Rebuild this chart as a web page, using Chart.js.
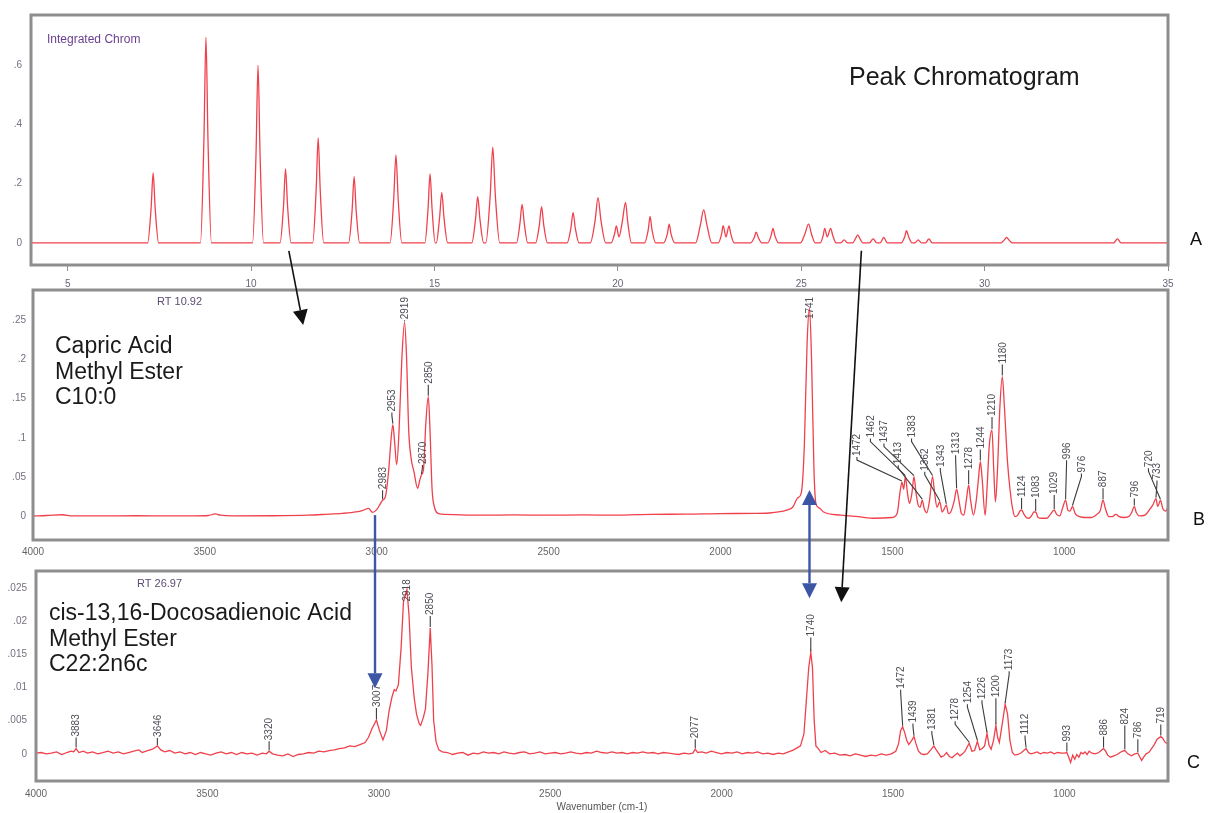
<!DOCTYPE html>
<html><head><meta charset="utf-8">
<script src="https://cdn.jsdelivr.net/npm/chart.js@4.4.1/dist/chart.umd.min.js"></script>
<style>
html,body{margin:0;padding:0;background:#fff;}
#page{position:relative;width:1208px;height:813px;overflow:hidden;background:#fff;}
.panel{position:absolute;left:0;width:1208px;}
#overlay{position:absolute;left:0;top:0;width:1208px;height:813px;pointer-events:none;}
</style></head><body>
<div id="page">
 <div class="panel" style="top:0;height:290px"><canvas id="cA"></canvas></div>
 <div class="panel" style="top:276px;height:286px"><canvas id="cB"></canvas></div>
 <div class="panel" style="top:556px;height:257px"><canvas id="cC"></canvas></div>
 <canvas id="overlay"></canvas>
</div>
<script>
// ---------------- DATA ----------------
// Panel A: integrated chromatogram, [retention time (min), intensity]
const chromatogram = [
 [4,0],[7.18,0],[7.275,0.118],[7.33,0.236],[7.385,0.118],[7.48,0],
 [8.62,0],[8.715,0.35],[8.77,0.695],[8.825,0.35],[8.92,0],
 [10.04,0],[10.135,0.30],[10.19,0.60],[10.245,0.30],[10.34,0],
 [10.79,0],[10.885,0.125],[10.94,0.25],[10.995,0.125],[11.09,0],
 [11.68,0],[11.775,0.18],[11.83,0.355],[11.885,0.18],[11.98,0],
 [12.66,0],[12.755,0.11],[12.81,0.224],[12.865,0.11],[12.96,0],
 [13.79,0],[13.89,0.15],[13.95,0.297],[14.01,0.15],[14.11,0],
 [14.74,0],[14.825,0.115],[14.88,0.233],[14.935,0.115],[15.02,0],
 [15.05,0],[15.14,0.085],[15.2,0.17],[15.26,0.085],[15.36,0],
 [16.02,0],[16.12,0.08],[16.18,0.156],[16.24,0.08],[16.34,0],
 [16.40,0],[16.52,0.16],[16.59,0.323],[16.66,0.16],[16.78,0],
 [17.24,0],[17.33,0.065],[17.39,0.13],[17.45,0.065],[17.54,0],
 [17.76,0],[17.86,0.06],[17.92,0.122],[17.98,0.06],[18.08,0],
 [18.62,0],[18.72,0.05],[18.78,0.102],[18.84,0.05],[18.94,0],
 [19.25,0],[19.38,0.075],[19.46,0.153],[19.54,0.075],[19.67,0],
 [19.82,0],[19.91,0.03],[19.96,0.057],[20.03,0.02],[20.12,0.07],[20.21,0.137],[20.27,0.07],[20.37,0],
 [20.73,0],[20.83,0.045],[20.88,0.089],[20.93,0.045],[21.03,0],
 [21.25,0],[21.35,0.03],[21.40,0.063],[21.45,0.03],[21.55,0],
 [22.12,0],[22.25,0.06],[22.34,0.111],[22.43,0.06],[22.56,0],
 [22.74,0],[22.83,0.03],[22.87,0.058],[22.95,0.02],[23.03,0.057],[23.08,0.03],[23.17,0],
 [23.62,0],[23.72,0.018],[23.77,0.036],[23.83,0.018],[23.92,0],
 [24.09,0],[24.18,0.025],[24.23,0.049],[24.28,0.025],[24.38,0],
 [24.98,0],[25.1,0.03],[25.2,0.063],[25.28,0.03],[25.38,0],
 [25.52,0],[25.6,0.025],[25.64,0.049],[25.71,0.02],[25.80,0.049],[25.86,0.025],[25.95,0],
 [26.08,0],[26.17,0.01],[26.26,0],
 [26.40,0],[26.48,0.014],[26.54,0.027],[26.60,0.014],[26.68,0],
 [26.86,0],[26.96,0.013],[27.06,0],
 [27.15,0],[27.25,0.018],[27.35,0],
 [27.73,0],[27.82,0.02],[27.87,0.041],[27.93,0.02],[28.02,0],
 [28.10,0],[28.19,0.01],[28.28,0],
 [28.39,0],[28.48,0.013],[28.57,0],
 [30.45,0],[30.53,0.009],[30.6,0.018],[30.67,0.009],[30.75,0],
 [33.52,0],[33.62,0.013],[33.72,0],[35,0]
];
const timeTicks = [5,10,15,20,25,30,35];
const chromYTicks = [0,0.2,0.4,0.6];

// Panel B: IR spectrum, Capric acid methyl ester, [wavenumber, absorbance]
const spectrumB = [
 [4000,0.001],[3960,0.0015],[3915,0.0025],[3885,0.001],[3800,0.001],[3700,0.0012],[3600,0.001],[3530,0.001],
 [3490,0.0015],[3470,0.0035],[3455,0.002],[3420,0.001],[3300,0.0012],[3200,0.002],[3150,0.003],[3100,0.0042],
 [3060,0.006],[3040,0.008],[3024,0.0105],[3012,0.0055],[3000,0.009],[2990,0.016],[2983,0.021],[2975,0.025],
 [2965,0.06],[2958,0.1],[2953,0.117],[2948,0.095],[2942,0.066],[2935,0.11],[2927,0.2],[2919,0.247],[2913,0.2],
 [2907,0.11],[2900,0.074],[2892,0.058],[2881,0.036],[2875,0.046],[2870,0.053],[2864,0.06],[2857,0.12],
 [2850,0.1525],[2845,0.11],[2839,0.035],[2832,0.012],[2820,0.004],[2800,0.003],[2700,0.002],[2600,0.0022],
 [2500,0.002],[2400,0.0022],[2300,0.002],[2200,0.003],[2100,0.0032],[2000,0.004],[1900,0.0042],[1850,0.005],
 [1810,0.008],[1790,0.012],[1775,0.024],[1765,0.03],[1756,0.09],[1748,0.22],[1741,0.265],[1735,0.2],[1728,0.06],
 [1722,0.016],[1712,0.011],[1700,0.006],[1650,0.002],[1600,0.0],[1550,-0.002],[1500,-0.001],[1486,0.004],
 [1478,0.03],[1472,0.044],[1467,0.035],[1462,0.051],[1456,0.03],[1450,0.017],[1443,0.03],[1437,0.051],
 [1431,0.03],[1425,0.015],[1419,0.012],[1413,0.021],[1407,0.01],[1400,0.005],[1392,0.02],[1383,0.051],
 [1377,0.03],[1370,0.012],[1362,0.019],[1355,0.006],[1349,0.01],[1343,0.015],[1337,0.004],[1330,0.006],
 [1320,0.02],[1313,0.035],[1306,0.02],[1299,0.004],[1292,0.002],[1285,0.02],[1278,0.04],[1272,0.02],
 [1264,0.002],[1256,0.02],[1249,0.05],[1244,0.07],[1239,0.05],[1230,0.002],[1224,0.04],[1218,0.09],
 [1210,0.11],[1205,0.06],[1200,0.019],[1194,0.06],[1187,0.14],[1180,0.178],[1174,0.14],[1165,0.07],
 [1157,0.032],[1150,0.01],[1143,0.0],[1135,0.002],[1129,0.007],[1124,0.0085],[1118,0.004],[1110,-0.001],
 [1102,-0.002],[1094,0.002],[1088,0.006],[1083,0.006],[1076,-0.001],[1065,-0.002],[1050,-0.002],[1040,0.003],
 [1029,0.0085],[1022,0.003],[1013,0.001],[1004,0.012],[996,0.021],[989,0.008],[983,0.007],[976,0.013],
 [968,0.004],[955,0.0],[940,-0.001],[920,-0.001],[905,0.003],[895,0.008],[887,0.021],[880,0.01],[870,0.0],
 [860,0.0],[850,0.003],[840,0.0],[825,-0.001],[810,0.001],[803,0.006],[796,0.013],[790,0.005],[780,0.001],
 [765,0.002],[750,0.01],[742,0.015],[733,0.023],[728,0.013],[720,0.021],[713,0.01],[705,0.007],[698,0.012]
];
const peaksB = [
 [2983,0.021],[2953,0.117],[2919,0.247],[2870,0.053],[2850,0.1525],[1741,0.265],[1472,0.044],[1462,0.051],
 [1437,0.051],[1413,0.021],[1383,0.051],[1362,0.019],[1343,0.015],[1313,0.035],[1278,0.040],[1244,0.070],
 [1210,0.110],[1180,0.178],[1124,0.0085],[1083,0.006],[1029,0.0085],[996,0.021],[976,0.013],[887,0.021],
 [796,0.013],[733,0.023],[720,0.021]
];
const absTicksB = [0,0.05,0.1,0.15,0.2,0.25];

// Panel C: IR spectrum, cis-13,16-docosadienoic acid methyl ester
const spectrumC = [
 [4000,0.0001],[3985,0.0002],[3970,0.0],[3955,0.0001],[3940,0.0003],[3925,-0.0001],[3910,0.0002],[3898,0.0004],
 [3890,0.0003],[3883,0.0008],[3875,0.0002],[3862,0.0004],[3850,0.0001],[3835,0.0003],[3820,0.0],[3805,0.0002],
 [3790,0.0004],[3775,0.0001],[3760,0.0003],[3745,0.0],[3730,0.0002],[3715,0.0004],[3700,0.0006],[3690,0.0002],
 [3675,0.0005],[3660,0.0007],[3646,0.0012],[3636,0.0006],[3625,0.0003],[3610,0.0005],[3595,0.0001],[3580,0.0003],
 [3565,0.0],[3550,0.0002],[3535,-0.0001],[3520,0.0002],[3505,0.0],[3490,-0.0002],[3475,0.0001],[3460,0.0003],
 [3445,0.0],[3430,0.0002],[3415,-0.0001],[3400,0.0002],[3385,0.0],[3370,0.0001],[3355,-0.0002],[3340,0.0001],
 [3328,0.0],[3320,0.0004],[3310,0.0],[3295,-0.0002],[3280,-0.0003],[3265,0.0],[3250,-0.0004],[3235,-0.0001],
 [3220,0.0],[3205,0.0002],[3190,0.0001],[3175,0.0004],[3160,0.0003],[3145,0.0005],[3130,0.0006],[3115,0.0008],
 [3100,0.0009],[3085,0.0012],[3070,0.0011],[3055,0.0014],[3040,0.0017],[3030,0.0025],[3020,0.0038],[3007,0.0051],
 [2998,0.0035],[2988,0.0021],[2978,0.0035],[2970,0.0065],[2962,0.0085],[2955,0.0097],[2950,0.0095],[2943,0.0104],
 [2935,0.016],[2928,0.023],[2918,0.0248],[2912,0.021],[2905,0.013],[2897,0.0085],[2890,0.006],[2882,0.0045],
 [2878,0.0043],[2870,0.0055],[2864,0.0068],[2857,0.012],[2850,0.019],[2845,0.0135],[2840,0.005],[2833,0.0018],
 [2825,0.0006],[2815,0.0003],[2800,0.0002],[2785,-0.0001],[2770,0.0001],[2755,0.0002],[2740,-0.0002],[2725,0.0001],
 [2710,0.0],[2695,0.0003],[2680,0.0001],[2665,0.0002],[2650,0.0],[2635,0.0003],[2620,0.0001],[2605,0.0],
 [2590,0.0002],[2575,0.0003],[2560,0.0],[2545,0.0001],[2530,0.0003],[2515,0.0],[2500,0.0001],[2485,0.0002],
 [2470,0.0],[2455,0.0001],[2440,0.0003],[2425,0.0001],[2410,0.0],[2395,0.0002],[2380,0.0001],[2365,0.0004],
 [2350,0.0002],[2335,0.0001],[2320,0.0003],[2305,0.0001],[2290,0.0002],[2275,0.0],[2260,0.0002],[2245,0.0001],
 [2230,0.0003],[2215,0.0001],[2200,0.0002],[2185,0.0],[2170,0.0002],[2155,0.0001],[2140,0.0],[2125,-0.0001],
 [2110,0.0001],[2095,0.0],[2084,0.0001],[2077,0.0007],[2070,0.0002],[2058,0.0003],[2045,0.0001],[2030,0.0004],
 [2015,0.0002],[2000,0.0],[1985,0.0002],[1970,0.0001],[1955,0.0003],[1940,0.0],[1925,0.0002],[1910,0.0001],
 [1895,0.0003],[1880,0.0],[1865,0.0001],[1850,-0.0001],[1835,0.0001],[1820,0.0],[1805,0.0003],[1790,0.0006],
 [1780,0.0009],[1770,0.0012],[1760,0.003],[1753,0.008],[1746,0.013],[1740,0.0153],[1735,0.013],[1730,0.005],
 [1725,0.0012],[1718,0.0008],[1710,0.0002],[1698,0.0005],[1685,0.0],[1670,0.0001],[1655,-0.0002],[1640,-0.0001],
 [1625,-0.0003],[1610,0.0],[1595,-0.0002],[1580,-0.0004],[1565,-0.0002],[1550,-0.0003],[1535,0.0],[1520,-0.0002],
 [1505,0.0],[1492,0.0004],[1484,0.0015],[1478,0.0035],[1472,0.0041],[1466,0.0032],[1460,0.002],[1454,0.0014],
 [1446,0.002],[1439,0.0026],[1433,0.0015],[1426,0.0004],[1418,0.0],[1410,-0.0001],[1400,0.0],[1390,0.0006],
 [1381,0.0012],[1374,0.0006],[1366,0.0],[1360,-0.0005],[1352,-0.0003],[1344,0.0002],[1336,-0.0004],[1328,-0.0006],
 [1320,-0.0002],[1312,0.0001],[1305,-0.0003],[1297,0.0],[1290,0.0004],[1278,0.0016],[1270,0.0004],[1262,0.0005],
 [1254,0.0019],[1247,0.0006],[1240,0.0008],[1233,0.0012],[1226,0.0031],[1220,0.0013],[1214,0.0007],[1207,0.002],
 [1200,0.0043],[1195,0.0025],[1190,0.0017],[1183,0.004],[1173,0.0075],[1166,0.006],[1159,0.002],[1152,0.0002],
 [1145,-0.0002],[1135,-0.0001],[1125,0.0002],[1112,0.0008],[1105,0.0002],[1098,0.0],[1090,0.0001],[1080,0.0003],
 [1070,0.0],[1060,0.0002],[1050,0.0001],[1040,0.0003],[1030,0.0],[1020,0.0002],[1008,0.0001],[1000,0.0001],
 [993,0.0002],[987,-0.0006],[982,-0.0013],[976,-0.0002],[970,-0.0008],[964,-0.0001],[958,-0.0005],[952,0.0002],
 [946,0.0],[940,0.0003],[934,-0.0001],[928,0.0004],[920,0.0001],[910,0.0],[900,0.0002],[893,0.0005],[886,0.0008],
 [880,0.0004],[874,-0.0002],[866,-0.0005],[856,-0.0003],[846,-0.0001],[838,0.0002],[830,0.0004],[824,0.0005],
 [815,0.0],[805,-0.0003],[795,0.0],[786,0.0001],[781,-0.0004],[775,-0.001],[769,-0.0005],[762,0.0],[754,0.0002],
 [746,0.0008],[738,0.0014],[730,0.0022],[719,0.0026],[714,0.0024],[707,0.0018],[698,0.0014]
];
const peaksC = [
 [3883,0.0008],[3646,0.0012],[3320,0.0004],[3007,0.0051],[2918,0.0248],[2850,0.019],[2077,0.0007],[1740,0.0153],
 [1472,0.0041],[1439,0.0026],[1381,0.0012],[1278,0.0016],[1254,0.0019],[1226,0.0031],[1200,0.0043],[1173,0.0075],
 [1112,0.0008],[993,0.0002],[886,0.0008],[824,0.0005],[786,0.0001],[719,0.0026]
];
const absTicksC = [0,0.005,0.01,0.015,0.02,0.025];
const wavenumberTicks = [4000,3500,3000,2500,2000,1500,1000];

// ---------------- LAYOUT (label placement, px offsets from the peak) ----------------
const labelOffsetsB = [
 [0,-10],[-1,-12],[0,-2],[1,-10],[0,-12],[0,12],[-45,-25],[-35,-38],
 [-30,-33],[-24,-35],[-21,-38],[-15,-30],[-6,-37],[-1,-34],[0,-15],[0,-12],
 [0,-13],[0,-12],[0,-12],[0,-13],[0,-15],[1,-40],[9,-33],[0,-12],
 [0,-8],[1,-18],[-12,-32]
];
const labelOffsetsC = [
 [0,-11],[0,-8],[0,-10],[0,-12],[0,13],[0,-12],[0,-10],[0,-15],
 [-2,-37],[-1,-13],[-2,-15],[-14,-22],[-10,-37],[-5,-33],[0,-27],[4,-33],
 [-1,-13],[0,-10],[0,-12],[0,-25],[0,-14],[0,-12]
];

const FONT = '"Liberation Sans", Arial, Helvetica, sans-serif';
const RED = '#ef414c';

function fixedTicks(values){ return scale => { scale.ticks = values.map(v => ({value: v})); }; }
function fmtFraction(v){ if (Math.abs(v) < 1e-12) return '0'; return String(+Number(v).toFixed(4)).replace(/^0\./, '.'); }
function fmtPlain(v){ return String(v); }

const framePlugin = {
  id: 'frame',
  afterDatasetsDraw(chart){
    const {ctx, chartArea: a} = chart;
    ctx.save(); ctx.strokeStyle = '#8e8e8e'; ctx.lineWidth = 3;
    ctx.strokeRect(a.left, a.top, a.right - a.left, a.bottom - a.top);
    ctx.restore();
  }
};

function makePeakLabels(labels, offsets){
  return {
    id: 'peakLabels',
    afterDatasetsDraw(chart){
      if (!labels) return;
      const {ctx} = chart; const xs = chart.scales.x, ys = chart.scales.y;
      ctx.save();
      labels.forEach(([wn, val], i) => {
        const [dx, dy] = offsets[i];
        const px = xs.getPixelForValue(wn), py = ys.getPixelForValue(val);
        const lx = px + dx, ly = py + dy;
        if (dy < 0) {
          ctx.strokeStyle = '#3c3c3c'; ctx.lineWidth = 1.1;
          ctx.beginPath(); ctx.moveTo(lx, ly);
          if (dx !== 0) ctx.lineTo(lx, Math.min(ly + 3, py - 1));
          ctx.lineTo(px, py - 1); ctx.stroke();
        }
        ctx.save(); ctx.translate(lx, ly); ctx.rotate(-Math.PI / 2);
        ctx.fillStyle = '#4d4d55'; ctx.font = '10px ' + FONT;
        ctx.textAlign = 'left'; ctx.textBaseline = 'middle';
        ctx.fillText(String(wn), 1, 0.5);
        ctx.restore();
      });
      ctx.restore();
    }
  };
}

function buildChart(id, c){
  return new Chart(document.getElementById(id), {
    type: 'line',
    data: { datasets: [{
      data: c.points.map(([x, y]) => ({x, y})),
      borderColor: RED, borderWidth: 1.3, pointRadius: 0, fill: false,
      tension: 0, cubicInterpolationMode: c.mono ? 'monotone' : 'default'
    }]},
    options: {
      responsive: true, maintainAspectRatio: false, animation: false, events: [],
      layout: { padding: { top: c.padTop, right: 40, left: 0, bottom: 0 } },
      plugins: { legend: {display: false}, tooltip: {enabled: false} },
      scales: {
        x: {
          type: 'linear', min: c.xMin, max: c.xMax, reverse: !!c.reverse,
          afterBuildTicks: fixedTicks(c.xTicks),
          afterFit: s => { s.height = c.xAxisH; },
          grid: { display: !!c.xTickMarks, drawOnChartArea: false, drawTicks: !!c.xTickMarks, tickLength: 6, color: '#8e8e8e', lineWidth: 1 },
          border: { display: false },
          ticks: { callback: fmtPlain, autoSkip: false, maxRotation: 0, font: {family: FONT, size: 10}, color: c.xTickColor, padding: c.xTickPad },
          title: c.xTitle ? { display: true, text: c.xTitle, font: {family: FONT, size: 10}, color: '#555', padding: {top: 0, bottom: 0} } : { display: false }
        },
        y: {
          type: 'linear', min: c.yMin, max: c.yMax,
          afterBuildTicks: fixedTicks(c.yTicks),
          afterFit: s => { s.width = c.yAxisW; },
          grid: { display: false, drawTicks: false }, border: { display: false },
          ticks: { callback: fmtFraction, font: {family: FONT, size: 10}, color: '#776f80', padding: c.yTickPad }
        }
      }
    },
    plugins: [framePlugin, makePeakLabels(c.labels, c.offsets)]
  });
}

const charts = {
  A: buildChart('cA', { points: chromatogram, mono: true, padTop: 15, xMin: 4, xMax: 35, xTicks: timeTicks,
        xAxisH: 25, xTickMarks: true, xTickColor: '#6a6478', xTickPad: 7,
        yMin: -0.075, yMax: 0.77, yTicks: chromYTicks, yAxisW: 31, yTickPad: 9 }),
  B: buildChart('cB', { points: spectrumB, mono: true, padTop: 14, xMin: 698, xMax: 4000, reverse: true, xTicks: wavenumberTicks,
        xAxisH: 22, xTickMarks: false, xTickColor: '#666', xTickPad: 6,
        yMin: -0.0296, yMax: 0.288, yTicks: absTicksB, yAxisW: 33, yTickPad: 7,
        labels: peaksB, offsets: labelOffsetsB }),
  C: buildChart('cC', { points: spectrumC, mono: false, padTop: 8, xMin: 698, xMax: 4000, reverse: true, xTicks: wavenumberTicks,
        xAxisH: 32, xTickMarks: false, xTickColor: '#666', xTickPad: 7, xTitle: 'Wavenumber (cm-1)',
        yMin: -0.0041, yMax: 0.0276, yTicks: absTicksC, yAxisW: 36, yTickPad: 9,
        labels: peaksC, offsets: labelOffsetsC })
};
const panelTop = { A: 0, B: 276, C: 556 };

// ---------------- OVERLAY: arrows and captions ----------------
const arrows = [
  { from: ['A', 11.03, -0.027], to: ['B', 3214, 0.2436], color: '#111', width: 1.6, heads: ['end'], vertical: false },
  { from: ['A', 26.64, -0.027], to: ['C', 1651, 0.0229], color: '#111', width: 1.6, heads: ['end'], vertical: false },
  { from: ['B', 3005, 0.002], to: ['C', 3005, 0.0099], color: '#3c55a5', width: 2.4, heads: ['end'], vertical: true },
  { from: ['B', 1741, 0.034], to: ['C', 1741, 0.0235], color: '#3c55a5', width: 2.4, heads: ['start', 'end'], vertical: true }
];
const captions = [
  ['Integrated Chrom', 47, 43, 12, '#6b3f8f'],
  ['Peak Chromatogram', 849, 85, 25, '#1a1a1a'],
  ['A', 1190, 245, 18, '#111'],
  ['RT 10.92', 157, 305, 11, '#5b4b73'],
  ['Capric Acid', 55, 353, 23, '#1a1a1a'],
  ['Methyl Ester', 55, 378.5, 23, '#1a1a1a'],
  ['C10:0', 55, 404, 23, '#1a1a1a'],
  ['B', 1193, 525, 18, '#111'],
  ['RT 26.97', 137, 587, 11, '#5b4b73'],
  ['cis-13,16-Docosadienoic Acid', 49, 620, 23, '#1a1a1a'],
  ['Methyl Ester', 49, 645.5, 23, '#1a1a1a'],
  ['C22:2n6c', 49, 671, 23, '#1a1a1a'],
  ['C', 1187, 768, 18, '#111']
];

function pagePoint([key, xv, yv]){
  const ch = charts[key];
  return [ch.scales.x.getPixelForValue(xv), ch.scales.y.getPixelForValue(yv) + panelTop[key]];
}

function drawHead(ctx, tip, from, len, half){
  const ang = Math.atan2(tip[1] - from[1], tip[0] - from[0]);
  const bx = tip[0] - len * Math.cos(ang), by = tip[1] - len * Math.sin(ang);
  ctx.beginPath(); ctx.moveTo(tip[0], tip[1]);
  ctx.lineTo(bx + half * Math.sin(ang), by - half * Math.cos(ang));
  ctx.lineTo(bx - half * Math.sin(ang), by + half * Math.cos(ang));
  ctx.closePath(); ctx.fill();
  return [bx, by];
}

function drawOverlay(){
  const cv = document.getElementById('overlay');
  const dpr = window.devicePixelRatio || 1;
  cv.width = 1208 * dpr; cv.height = 813 * dpr;
  const ctx = cv.getContext('2d'); ctx.scale(dpr, dpr);
  arrows.forEach(a => {
    let p0 = pagePoint(a.from), p1 = pagePoint(a.to);
    if (a.vertical) p1 = [p0[0], p1[1]];
    ctx.strokeStyle = a.color; ctx.fillStyle = a.color; ctx.lineWidth = a.width;
    let s = p0, e = p1;
    if (a.heads.includes('end')) e = drawHead(ctx, p1, p0, 15, 7.5);
    if (a.heads.includes('start')) s = drawHead(ctx, p0, p1, 15, 7.5);
    ctx.beginPath(); ctx.moveTo(s[0], s[1]); ctx.lineTo(e[0], e[1]); ctx.stroke();
  });
  captions.forEach(([t, x, y, size, color]) => {
    ctx.font = size + 'px ' + FONT; ctx.fillStyle = color;
    ctx.textAlign = 'left'; ctx.textBaseline = 'alphabetic';
    ctx.fillText(t, x, y);
  });
}
drawOverlay();
</script>
</body></html>
